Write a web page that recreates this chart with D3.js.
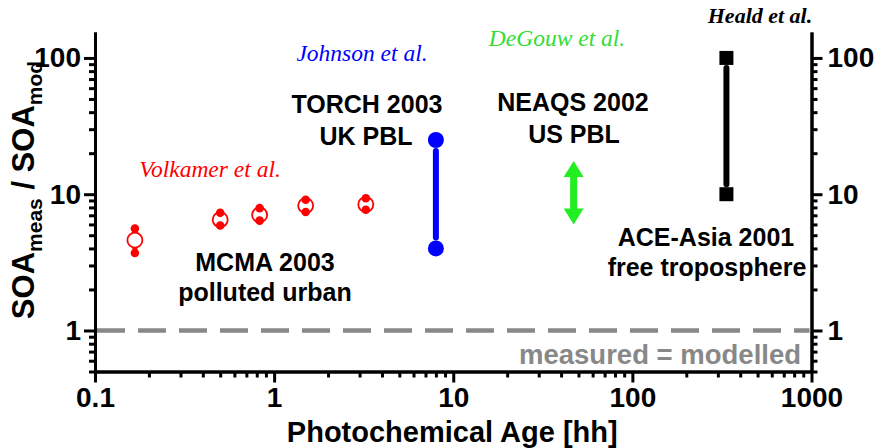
<!DOCTYPE html>
<html>
<head>
<meta charset="utf-8">
<script src="https://cdn.jsdelivr.net/npm/d3@7"></script>
<style>
  html, body { margin: 0; padding: 0; background: #fff; }
  svg { display: block; }
  .lbl { font-family: "Liberation Sans", Arial, sans-serif; font-weight: bold; }
  .ref { font-family: "Liberation Serif", "Times New Roman", serif; font-style: italic; }
</style>
</head>
<body>
<svg id="chart" width="883" height="448"></svg>
<script>
// MCMA 2003 (Volkamer et al.): photochemical age [h] and SOA ratio
const mcmaAge  = [0.167, 0.5, 0.83, 1.5, 3.25];
const mcmaMid  = [4.6, 6.5, 7.05, 8.25, 8.4];
const mcmaLow  = [3.7, 5.9, 6.4, 7.4, 7.7];
const mcmaHigh = [5.6, 7.3, 7.9, 9.1, 9.35];

// TORCH 2003 (Johnson et al.)
const torchAge = 8;
const torchRange = [4, 25];

// NEAQS 2002 (DeGouw et al.)
const neaqsAge = 47;
const neaqsRange = [6, 17.5];

// ACE-Asia 2001 (Heald et al.)
const aceAge = 335;
const aceRange = [10, 100];

// 1:1 reference
const oneToOne = 1;

const xMajor = [0.1, 1, 10, 100, 1000];
const xMajorLabels = ["0.1", "1", "10", "100", "1000"];
const yMajor = [1, 10, 100];
const yMajorLabels = ["1", "10", "100"];

const svg = d3.select("#chart");
const plotL = 95, plotR = 811.5, plotT = 32, plotB = 371.5;

const x = d3.scaleLog().domain([0.1, 1000]).range([plotL, plotR]);
const y = d3.scaleLog().domain([0.5, 155]).range([plotB, plotT]);

const isMajor = v => Math.abs(Math.log10(v) - Math.round(Math.log10(v))) < 1e-6;
const xMinor = x.ticks().filter(v => !isMajor(v));
const yMinor = y.ticks().filter(v => !isMajor(v));

// 1:1 dashed line
svg.append("line")
  .attr("x1", x(0.1) + 2).attr("x2", x(1000) - 2)
  .attr("y1", y(oneToOne)).attr("y2", y(oneToOne))
  .attr("stroke", "#888").attr("stroke-width", 4.5)
  .attr("stroke-dasharray", "28,13");

svg.append("text").attr("class", "lbl")
  .attr("x", 801).attr("y", 364).attr("text-anchor", "end")
  .attr("font-size", 27.5).attr("fill", "#888")
  .text("measured = modelled");

// axes
function styleAxis(g) {
  g.selectAll(".domain").attr("stroke", "#000").attr("stroke-width", 3);
  g.selectAll(".tick line").attr("stroke", "#000").attr("stroke-width", 3);
  g.selectAll(".tick text").attr("class", "lbl").attr("font-size", 28).attr("fill", "#000");
}

const gx = svg.append("g").attr("transform", `translate(0,${plotB})`)
  .call(d3.axisBottom(x).tickValues(xMajor).tickFormat((d, i) => xMajorLabels[i])
    .tickSize(11).tickSizeOuter(0).tickPadding(5));
styleAxis(gx);
const gxm = svg.append("g").attr("transform", `translate(0,${plotB})`)
  .call(d3.axisBottom(x).tickValues(xMinor).tickFormat("").tickSize(6).tickSizeOuter(0));
styleAxis(gxm);

const gy = svg.append("g").attr("transform", `translate(${plotL},0)`)
  .call(d3.axisLeft(y).tickValues(yMajor).tickFormat((d, i) => yMajorLabels[i])
    .tickSize(11).tickSizeOuter(0).tickPadding(3));
styleAxis(gy);
const gym = svg.append("g").attr("transform", `translate(${plotL},0)`)
  .call(d3.axisLeft(y).tickValues(yMinor).tickFormat("").tickSize(6).tickSizeOuter(0));
styleAxis(gym);

const gr = svg.append("g").attr("transform", `translate(${plotR},0)`)
  .call(d3.axisRight(y).tickValues(yMajor).tickFormat((d, i) => yMajorLabels[i])
    .tickSize(11).tickSizeOuter(0).tickPadding(5));
styleAxis(gr);
const grm = svg.append("g").attr("transform", `translate(${plotR},0)`)
  .call(d3.axisRight(y).tickValues(yMinor).tickFormat("").tickSize(6).tickSizeOuter(0));
styleAxis(grm);

// axis titles
svg.append("text").attr("class", "lbl")
  .attr("x", (plotL + plotR) / 2 - 1).attr("y", 442).attr("text-anchor", "middle")
  .attr("font-size", 29).text("Photochemical Age [hh]");

const yt = svg.append("text").attr("class", "lbl")
  .attr("transform", "translate(34,190) rotate(-90)")
  .attr("text-anchor", "middle").attr("font-size", 31);
yt.append("tspan").text("SOA");
yt.append("tspan").attr("font-size", 21).attr("dy", 8).text("meas");
yt.append("tspan").attr("dy", -8).text(" / SOA");
yt.append("tspan").attr("font-size", 21).attr("dy", 8).text("mod");

// MCMA 2003 points
const red = "#ff0000";
const mcma = svg.append("g");
mcmaAge.forEach((a, i) => {
  mcma.append("line")
    .attr("x1", x(a)).attr("x2", x(a))
    .attr("y1", y(mcmaLow[i])).attr("y2", y(mcmaHigh[i]))
    .attr("stroke", red).attr("stroke-width", 5);
  mcma.append("circle").attr("cx", x(a)).attr("cy", y(mcmaMid[i])).attr("r", 7.5)
    .attr("fill", "#fff").attr("stroke", red).attr("stroke-width", 1.8);
  [mcmaLow[i], mcmaHigh[i]].forEach(v => {
    mcma.append("circle").attr("cx", x(a)).attr("cy", y(v)).attr("r", 4.3).attr("fill", red);
  });
});

// TORCH 2003 range
const blue = "#0000ff";
svg.append("line")
  .attr("x1", x(torchAge)).attr("x2", x(torchAge))
  .attr("y1", y(torchRange[1]) + 11).attr("y2", y(torchRange[0]) - 11)
  .attr("stroke", blue).attr("stroke-width", 6).attr("stroke-linecap", "round");
torchRange.forEach(v => {
  svg.append("circle").attr("cx", x(torchAge)).attr("cy", y(v)).attr("r", 8).attr("fill", blue);
});

// NEAQS 2002 double arrow
const green = "#22ee22";
{
  const cx = x(neaqsAge), yt0 = y(neaqsRange[1]), yb0 = y(neaqsRange[0]);
  const hw = 10, sw = 3.5, hl = 16;
  const p = d3.path();
  p.moveTo(cx, yt0);
  p.lineTo(cx + hw, yt0 + hl);
  p.lineTo(cx + sw, yt0 + hl);
  p.lineTo(cx + sw, yb0 - hl);
  p.lineTo(cx + hw, yb0 - hl);
  p.lineTo(cx, yb0);
  p.lineTo(cx - hw, yb0 - hl);
  p.lineTo(cx - sw, yb0 - hl);
  p.lineTo(cx - sw, yt0 + hl);
  p.lineTo(cx - hw, yt0 + hl);
  p.closePath();
  svg.append("path").attr("d", p.toString()).attr("fill", green);
}

// ACE-Asia 2001 range
svg.append("line")
  .attr("x1", x(aceAge)).attr("x2", x(aceAge))
  .attr("y1", y(aceRange[1]) + 10).attr("y2", y(aceRange[0]) - 10)
  .attr("stroke", "#000").attr("stroke-width", 6).attr("stroke-linecap", "round");
aceRange.forEach(v => {
  svg.append("rect").attr("x", x(aceAge) - 7).attr("y", y(v) - 7)
    .attr("width", 14).attr("height", 14).attr("fill", "#000");
});

// campaign labels
function label(txt, cx, by, size, color, cls) {
  svg.append("text").attr("class", cls || "lbl")
    .attr("x", cx).attr("y", by).attr("text-anchor", "middle")
    .attr("font-size", size).attr("fill", color || "#000").text(txt);
}
label("Volkamer et al.", 210, 177, 23.5, red, "ref");
label("MCMA 2003", 265, 271, 25);
label("polluted urban", 265, 301, 25);

label("Johnson et al.", 362, 61, 23.5, blue, "ref");
label("TORCH 2003", 367, 113, 25);
label("UK PBL", 366, 145, 25);

label("DeGouw et al.", 557, 46, 23.5, "#33dd33", "ref");
label("NEAQS 2002", 573, 111, 25);
label("US PBL", 574, 143, 25);

svg.append("text").attr("class", "ref")
  .attr("x", 760).attr("y", 23).attr("text-anchor", "middle")
  .attr("font-size", 22).attr("font-weight", "bold").text("Heald et al.");
label("ACE-Asia 2001", 706, 246, 25);
label("free troposphere", 707, 276, 25);
</script>
</body>
</html>
